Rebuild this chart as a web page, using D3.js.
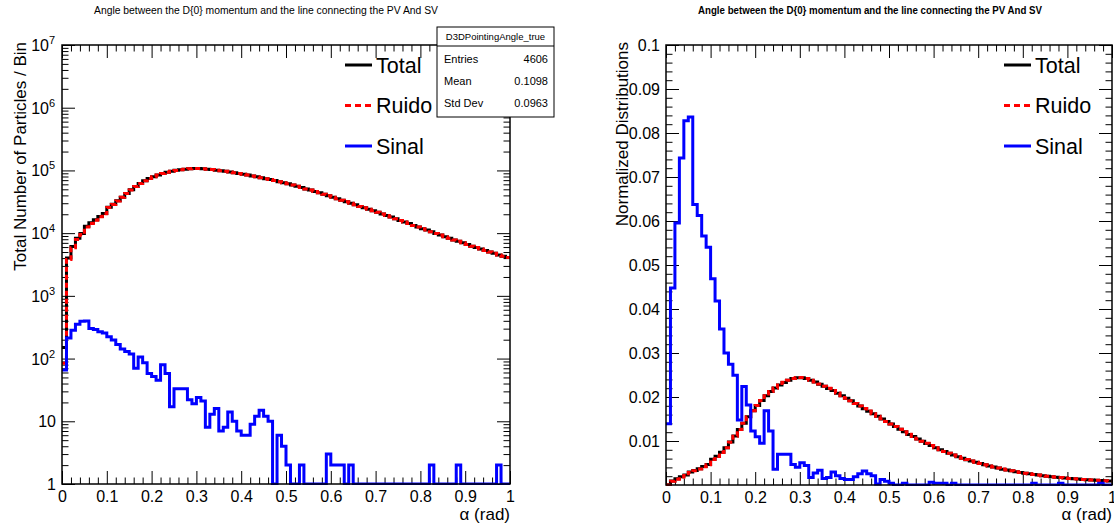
<!DOCTYPE html>
<html>
<head>
<meta charset="utf-8">
<script src="https://cdnjs.cloudflare.com/ajax/libs/d3/7.8.5/d3.min.js"></script>
<style>
  body { margin: 0; background: #fff; }
  svg text { font-family: "Liberation Sans", Arial, Helvetica, sans-serif; fill: #000; }
</style>
</head>
<body>
<svg id="chart" width="1114" height="526"></svg>
<script>
// histogram binning: 100 bins between 0 and 1 rad
var xMin = 0, xMax = 1, nBins = 100;

var totalCounts = [
  150, 4000, 6150, 8300, 9900, 12900, 14600, 16300, 18500, 20600,
  25800, 28800, 32700, 37400, 43000, 49000, 55500, 61900, 68400, 74400,
  79600, 84700, 89400, 93700, 97200, 100200, 102800, 104900, 106600, 107500,
  107500, 106600, 104900, 103200, 101000, 98900, 96800, 94600, 92000, 89400,
  86900, 84300, 81700, 79100, 76500, 74000, 71400, 68800, 66200, 63600,
  61100, 58500, 55900, 53300, 50700, 48600, 46000, 43900, 41700, 39600,
  37400, 35300, 33500, 31800, 30100, 28400, 26700, 25400, 24100, 22800,
  21500, 20200, 19100, 18100, 17000, 15900, 15100, 14200, 13300, 12500,
  11800, 11200, 10500, 9900, 9300, 8800, 8300, 7800, 7400, 7000,
  6600, 6200, 5900, 5600, 5300, 5000, 4800, 4500, 4300, 4100
];

// Signal (Sinal) counts per bin
var sinalCounts = [
  66, 212, 282, 352, 392, 396, 302, 290, 268, 256,
  222, 198, 168, 142, 130, 118, 70, 106, 86, 58,
  52, 45, 80, 58, 17, 33, 33, 33, 22, 19,
  24, 21, 8, 13, 16, 7, 8, 14, 10, 7,
  6, 6, 9, 12, 15, 12, 10, 1, 6, 4,
  2, 0, 0, 2, 0, 0, 0, 0, 0, 3,
  2, 2, 2, 0, 2, 0, 0, 0, 0, 0,
  0, 0, 0, 0, 0, 0, 0, 0, 0, 0,
  0, 0, 2, 0, 0, 0, 0, 0, 2, 0,
  0, 0, 0, 0, 0, 0, 0, 2, 0, 0
];

// Ruido (background) = total minus signal
var ruidoCounts = totalCounts.map(function(t, i){ return t - sinalCounts[i]; });

var xTickValues = [0, 0.1, 0.2, 0.3, 0.4, 0.5, 0.6, 0.7, 0.8, 0.9, 1];
var xTickLabels = ["0", "0.1", "0.2", "0.3", "0.4", "0.5", "0.6", "0.7", "0.8", "0.9", "1"];
var logTickValues = [1, 10, 100, 1e3, 1e4, 1e5, 1e6, 1e7];
var normTickValues = [0.01, 0.02, 0.03, 0.04, 0.05, 0.06, 0.07, 0.08, 0.09, 0.1];
var normTickLabels = ["0.01", "0.02", "0.03", "0.04", "0.05", "0.06", "0.07", "0.08", "0.09", "0.1"];

var titleText = "Angle between the D{0} momentum and the line connecting the PV And SV";
var legendNames = ["Total", "Ruido", "Sinal"];
var statsRows = [["Entries", "4606"], ["Mean", "0.1098"], ["Std Dev", "0.0963"]];

var svg = d3.select("#chart");
var blue = "#0000ff", red = "#ff0000";

function normalize(arr) {
  var s = d3.sum(arr);
  return arr.map(function(v){ return v / s; });
}

function stepPath(vals, x, y, floor) {
  var w = (xMax - xMin) / nBins;
  var pts = [];
  vals.forEach(function(v, i){
    var yy = y(Math.max(v, floor));
    pts.push([x(xMin + i * w), yy]);
    pts.push([x(xMin + (i + 1) * w), yy]);
  });
  return d3.line()(pts);
}

function xMinorTicks() {
  var t = [];
  for (var i = 0; i <= 50; i++) if (i % 5 != 0) t.push(i / 50);
  return t;
}

function drawPanel(p) {
  var g = svg.append("g");
  var x = d3.scaleLinear().domain([xMin, xMax]).range([p.x0, p.x1]);
  var y = p.y;

  var clipId = "clip" + p.id;
  svg.append("clipPath").attr("id", clipId).append("rect")
    .attr("x", p.x0).attr("y", p.y0 - 2).attr("width", p.x1 - p.x0).attr("height", p.y1 - p.y0 + 3);

  // x ticks bottom / top
  var xMajB = d3.axisBottom(x).tickValues(xTickValues).tickSize(-13).tickPadding(7)
    .tickFormat(function(d, i){ return xTickLabels[i]; });
  var gxb = g.append("g").attr("transform", "translate(0," + p.y1 + ")").call(xMajB);
  gxb.selectAll("text").style("font-size", "16px");
  g.append("g").attr("transform", "translate(0," + p.y1 + ")")
    .call(d3.axisBottom(x).tickValues(xMinorTicks()).tickSize(-6.5).tickFormat(""));
  g.append("g").attr("transform", "translate(0," + p.y0 + ")")
    .call(d3.axisTop(x).tickValues(xTickValues).tickSize(-13).tickFormat(""));
  g.append("g").attr("transform", "translate(0," + p.y0 + ")")
    .call(d3.axisTop(x).tickValues(xMinorTicks()).tickSize(-6.5).tickFormat(""));

  // y ticks left / right
  g.append("g").attr("transform", "translate(" + p.x0 + ",0)")
    .call(d3.axisLeft(y).tickValues(p.yMajor).tickSize(-13).tickFormat(""));
  g.append("g").attr("transform", "translate(" + p.x0 + ",0)")
    .call(d3.axisLeft(y).tickValues(p.yMinor).tickSize(-6.5).tickFormat(""));
  g.append("g").attr("transform", "translate(" + p.x1 + ",0)")
    .call(d3.axisRight(y).tickValues(p.yMajor).tickSize(-13).tickFormat(""));
  g.append("g").attr("transform", "translate(" + p.x1 + ",0)")
    .call(d3.axisRight(y).tickValues(p.yMinor).tickSize(-6.5).tickFormat(""));
  g.selectAll(".domain").remove();
  g.selectAll(".tick line").attr("stroke", "#000").attr("stroke-width", 1);

  // y labels
  p.yMajor.forEach(function(v, i){
    var t = g.append("text").attr("x", p.x0 - 6).attr("y", y(v) + 6)
      .attr("text-anchor", "end").style("font-size", "16px");
    if (p.log) {
      var e = Math.round(Math.log10(v));
      if (e == 0) t.text("1");
      else if (e == 1) t.text("10");
      else {
        t.attr("x", p.x0 - 13);
        t.append("tspan").text("10");
        g.append("text").attr("x", p.x0 - 7).attr("y", y(v) - 1)
          .attr("text-anchor", "end").style("font-size", "11px").text(e);
      }
    } else {
      t.text(p.yLabels[i]);
    }
  });

  // histograms
  var hg = g.append("g").attr("clip-path", "url(#" + clipId + ")").attr("fill", "none");
  hg.append("path").attr("d", stepPath(p.total, x, y, p.floor))
    .attr("stroke", "#000").attr("stroke-width", 3);
  hg.append("path").attr("d", stepPath(p.ruido, x, y, p.floor))
    .attr("stroke", red).attr("stroke-width", 3).attr("stroke-dasharray", "5,3");
  hg.append("path").attr("d", stepPath(p.sinal, x, y, p.floor))
    .attr("stroke", blue).attr("stroke-width", 3);

  // frame
  g.append("rect").attr("x", p.x0).attr("y", p.y0).attr("width", p.x1 - p.x0).attr("height", p.y1 - p.y0)
    .attr("fill", "none").attr("stroke", "#000").attr("stroke-width", 1.5);

  // titles
  svg.append("text").attr("x", p.titleX).attr("y", 14).attr("text-anchor", "middle")
    .style("font-size", "10px").style("font-weight", p.titleBold ? "bold" : "normal")
    .attr("textLength", 344).attr("lengthAdjust", "spacingAndGlyphs").text(titleText);
  svg.append("text").attr("transform", "translate(" + p.yTitleX + "," + (p.y0 - 3) + ") rotate(-90)")
    .attr("text-anchor", "end").style("font-size", "17px").text(p.yTitle);
  svg.append("text").attr("x", p.x1).attr("y", 520).attr("text-anchor", "end")
    .style("font-size", "17px").text("\u03b1 (rad)");

  // legend
  var lg = svg.append("g");
  var styles = [{c: "#000", d: null}, {c: red, d: "6,4"}, {c: blue, d: null}];
  legendNames.forEach(function(n, i){
    var ly = 65 + i * 40.5;
    lg.append("line").attr("x1", p.legX).attr("x2", p.legX + 27).attr("y1", ly).attr("y2", ly)
      .attr("stroke", styles[i].c).attr("stroke-width", 3).attr("stroke-dasharray", styles[i].d);
    lg.append("text").attr("x", p.legX + 31).attr("y", ly + 7.5).style("font-size", "21.5px").text(n);
  });
}

// left panel: counts, log scale
drawPanel({
  id: "L", x0: 62, x1: 510, y0: 45, y1: 484, log: true, floor: 1,
  y: d3.scaleLog().domain([1, 1e7]).range([484, 45]),
  yMajor: logTickValues,
  yMinor: d3.range(0, 7).flatMap(function(e){ return [2,3,4,5,6,7,8,9].map(function(m){ return m * Math.pow(10, e); }); }),
  total: totalCounts, ruido: ruidoCounts, sinal: sinalCounts,
  titleX: 266, titleBold: false, yTitleX: 26, yTitle: "Total Number of Particles / Bin", legX: 345
});

// right panel: normalized distributions
drawPanel({
  id: "R", x0: 666, x1: 1112, y0: 45, y1: 485, log: false, floor: 0,
  y: d3.scaleLinear().domain([0, 0.1]).range([485, 45]),
  yMajor: normTickValues, yLabels: normTickLabels,
  yMinor: d3.range(1, 50).filter(function(i){ return i % 5 != 0; }).map(function(i){ return i * 0.002; }),
  total: normalize(totalCounts), ruido: normalize(ruidoCounts), sinal: normalize(sinalCounts),
  titleX: 870, titleBold: true, yTitleX: 628, yTitle: "Normalized Distributions", legX: 1004
});

// stats box
var sb = svg.append("g");
sb.append("rect").attr("x", 437).attr("y", 27).attr("width", 117).attr("height", 90)
  .attr("fill", "#fff").attr("stroke", "#000").attr("stroke-width", 1);
sb.append("line").attr("x1", 437).attr("x2", 554).attr("y1", 46).attr("y2", 46).attr("stroke", "#000");
sb.append("text").attr("x", 495.5).attr("y", 40).attr("text-anchor", "middle")
  .style("font-size", "9.5px").text("D3DPointingAngle_true");
statsRows.forEach(function(r, i){
  var ty = 63 + i * 22;
  sb.append("text").attr("x", 444).attr("y", ty).style("font-size", "11px").text(r[0]);
  sb.append("text").attr("x", 548).attr("y", ty).attr("text-anchor", "end").style("font-size", "11px").text(r[1]);
});
</script>
</body>
</html>
